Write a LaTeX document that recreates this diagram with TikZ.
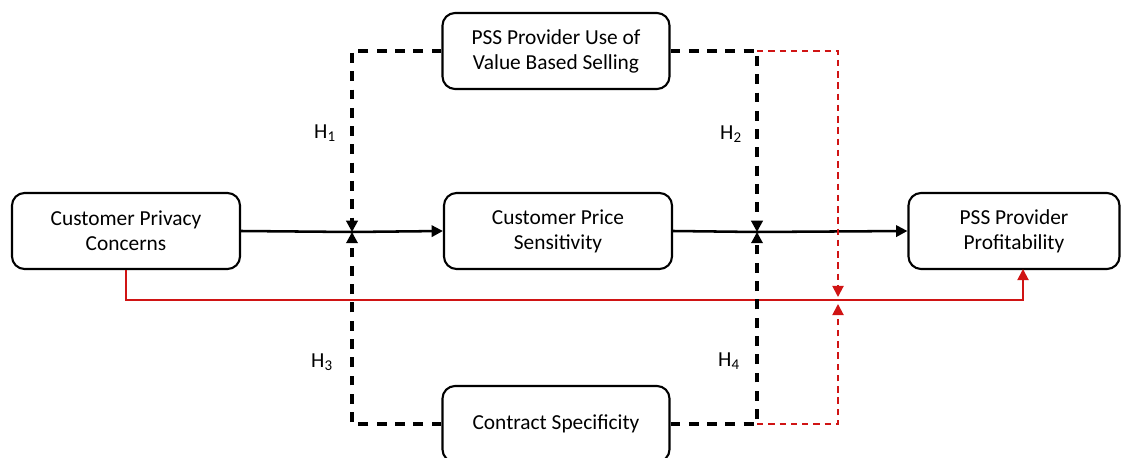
\documentclass[tikz,border=0pt]{standalone}
\usepackage{fontspec}
\setmainfont{Carlito}
\usetikzlibrary{arrows.meta}
\definecolor{linkred}{RGB}{208,20,20}

\begin{document}
\begin{tikzpicture}[x=0.025cm,y=-0.025cm,font=\fontsize{15.2}{17.8}\selectfont]

%
% Styles
%
\tikzstyle{box} = [rectangle,rounded corners=9pt,draw=black,line width=1.5pt,fill=white,
                   minimum width=5.7cm,minimum height=1.9cm,align=center,inner sep=2pt]
\tikzstyle{tip} = [-{Triangle[length=8pt,width=8pt]}]
\tikzstyle{main} = [tip,line width=1.8pt]
\tikzstyle{moder} = [tip,line width=2.4pt,dash pattern=on 7pt off 6pt]
\tikzstyle{redmoder} = [tip,linkred,line width=1.4pt,dash pattern=on 4.5pt off 3.5pt]
\tikzstyle{hlabel} = [inner sep=0pt]

\useasboundingbox (0,0) rectangle (1124,458);

\node[box] (privacy) at (126,231) {Customer Privacy\\Concerns};
\node[box] (price)   at (558,231) {Customer Price\\Sensitivity};
\node[box,minimum width=5.275cm] (profit) at (1014,231) {PSS Provider\\Profitability};
\node[box,minimum width=5.675cm] (vbs) at (556,51)  {PSS Provider Use of\\Value Based Selling};
\node[box,minimum width=5.675cm] (spec) at (556,424) {Contract Specificity};

\coordinate (m1) at (352,232);
\coordinate (m2) at (757,232);
\coordinate (r1) at (838,297);
\coordinate (r2) at (838,304);
\coordinate (rp) at (1023,269);

% main path
\draw[line width=1.8pt] (privacy.east) -- (m1);
\draw[main] (m1) -- (price.west);
\draw[line width=1.8pt] (price.east) -- (m2);
\draw[main] (m2) -- (profit.west);

% direct effect
\draw[tip,linkred,line width=1.4pt] (privacy.south) -- (126,300) -| (rp);

% moderators
\draw[moder] (vbs.west) -| (m1);
\draw[moder] (spec.west) -| (m1);
\draw[moder] (vbs.east) -| (m2);
\draw[moder] (spec.east) -| (m2);
\draw[redmoder] (757,51) -| (r1);
\draw[redmoder] (757,424) -| (r2);

\node[hlabel] (h1) at (325,133) {H\textsubscript{1}};
\node[hlabel] (h2) at (731,134) {H\textsubscript{2}};
\node[hlabel] (h3) at (322,362) {H\textsubscript{3}};
\node[hlabel] (h4) at (729,361) {H\textsubscript{4}};

\end{tikzpicture}
\end{document}
